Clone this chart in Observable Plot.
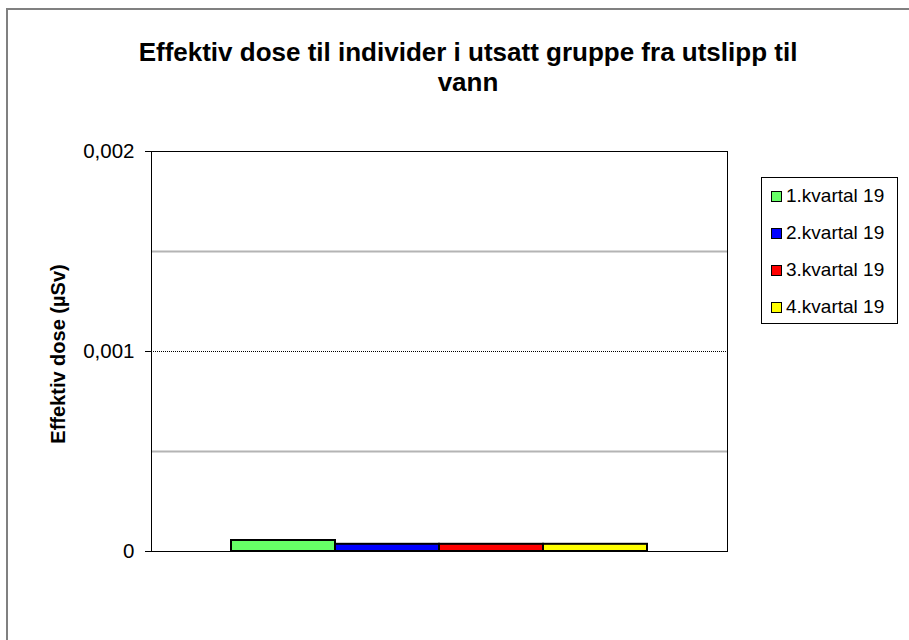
<!DOCTYPE html>
<html>
<head>
<meta charset="utf-8">
<script src="https://cdn.jsdelivr.net/npm/d3@7"></script>
<script src="https://cdn.jsdelivr.net/npm/@observablehq/plot@0.6"></script>
<style>
  html, body { margin: 0; padding: 0; background: #fff; }
  #wrap { position: relative; width: 909px; height: 640px; overflow: hidden; font-family: "Liberation Sans", Arial, sans-serif; }
  #frame { position: absolute; left: 6px; top: 8px; width: 940px; height: 700px; border-left: 2px solid #808080; border-top: 2px solid #808080; box-sizing: border-box; }
  #title { position: absolute; left: 68px; width: 800px; top: 37px; text-align: center; font-weight: bold; font-size: 26px; line-height: 30px; color: #000; }
  #ylabel { position: absolute; left: 58px; top: 354px; transform: translate(-50%, -50%) rotate(-90deg); font-weight: bold; font-size: 20px; white-space: nowrap; }
  #legend { position: absolute; left: 761px; top: 177px; width: 137px; height: 147px; border: 1px solid #000; box-sizing: border-box; background: #fff; }
  .item { position: absolute; left: 9px; height: 20px; display: flex; align-items: center; font-size: 19px; white-space: nowrap; }
  .sw { width: 9px; height: 9px; border: 1.5px solid #000; margin-right: 4px; }
  #plot { position: absolute; left: 0; top: 0; }
</style>
</head>
<body>
<div id="wrap">
  <div id="frame"></div>
  <div id="plot"></div>
  <div id="title">Effektiv dose til individer i utsatt gruppe fra utslipp til<br>vann</div>
  <div id="ylabel">Effektiv dose (µSv)</div>
  <div id="legend"></div>
</div>
<script>
const series = ["1.kvartal 19", "2.kvartal 19", "3.kvartal 19", "4.kvartal 19"];
const values = [0.000055, 0.000036, 0.000036, 0.000036];
const colors = ["#66ff66", "#0000ff", "#ff0000", "#ffff00"];
const yTicks = [0, 0.001, 0.002];
const yMinor = [0.0005, 0.0015];
const yLabels = ["0", "0,001", "0,002"];

const data = series.map((s, i) => ({series: s, value: values[i], color: colors[i]}));

const chart = Plot.plot({
  width: 909,
  height: 640,
  marginTop: 151,
  marginBottom: 89,
  marginLeft: 151,
  marginRight: 182,
  style: {fontFamily: "'Liberation Sans', Arial, sans-serif", background: "transparent", color: "#000"},
  x: {type: "band", domain: series, paddingInner: 0, paddingOuter: 0.76, axis: null},
  y: {domain: [0, 0.002], axis: null},
  marks: [
    Plot.ruleY(yMinor, {stroke: "#b4b4b4", strokeWidth: 2}),
    Plot.ruleY([yTicks[1]], {stroke: "#000", strokeWidth: 1, strokeDasharray: "1,1"}),
    Plot.barY(data, {x: "series", y: "value", fill: "color", stroke: "#000", strokeWidth: 2}),
    Plot.frame({stroke: "#000", strokeWidth: 1}),
    Plot.axisY({ticks: yTicks, tickSize: 6, tickPadding: 11, fontSize: 20.5,
      tickFormat: d => yLabels[yTicks.indexOf(d)], label: null, stroke: "#000"}),
    Plot.ruleY([0], {stroke: "#000", strokeWidth: 1, clip: false})
  ]
});
document.getElementById("plot").appendChild(chart);

const legend = document.getElementById("legend");
const tops = [8, 45, 82, 119];
series.forEach((s, i) => {
  const it = document.createElement("div");
  it.className = "item";
  it.style.top = tops[i] + "px";
  const sw = document.createElement("div");
  sw.className = "sw";
  sw.style.background = colors[i];
  it.appendChild(sw);
  it.appendChild(document.createTextNode(s));
  legend.appendChild(it);
});
</script>
</body>
</html>
